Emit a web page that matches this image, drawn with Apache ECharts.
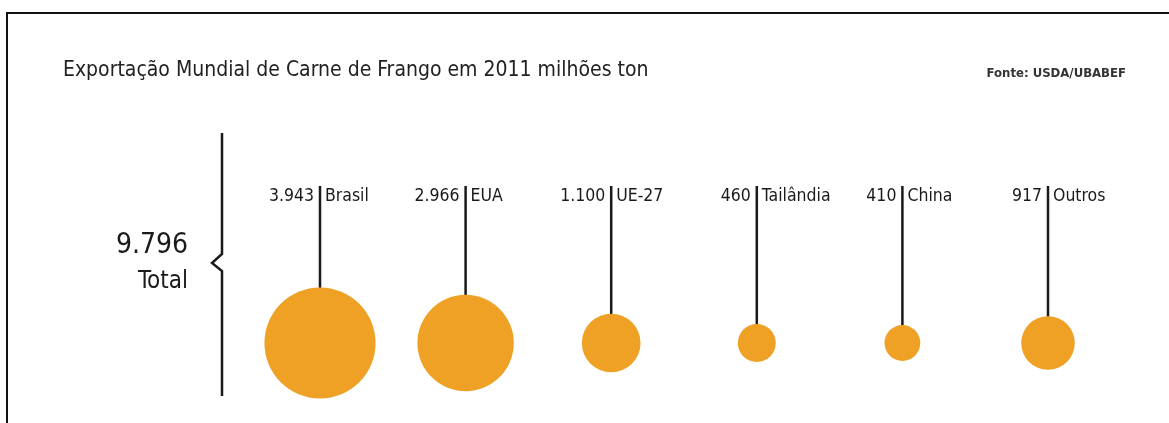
<!DOCTYPE html>
<html>
<head>
<meta charset="utf-8">
<script src="https://cdn.jsdelivr.net/npm/echarts@6/dist/echarts.min.js"></script>
<style>
  html, body { margin: 0; padding: 0; background: #fff; }
  #chart { width: 1169px; height: 423px; }
</style>
</head>
<body>
<div id="chart"></div>
<script>
// ---- data ----
const categories = ['Brasil', 'EUA', 'UE-27', 'Tailândia', 'China', 'Outros'];
const exportValues = [3943, 2966, 1100, 460, 410, 917];
const titleText = 'Exportação Mundial de Carne de Frango em 2011 milhões ton';
const sourceText = 'Fonte: USDA/UBABEF';
const totalLabel = 'Total';

// ---- helpers ----
const FONT = '"DejaVu Sans Condensed", "DejaVu Sans", sans-serif';
const fmt = v => String(v).replace(/\B(?=(\d{3})+(?!\d))/g, '.');
const sizeOf = v => 1.77 * Math.sqrt(v);
const total = exportValues.reduce((a, b) => a + b, 0);

const chart = echarts.init(document.getElementById('chart'));

const scatterData = exportValues.map((v, i) => [i, 0, v]);
const stemData = exportValues.map((v, i) => [i, v]);

chart.setOption({
  animation: false,
  backgroundColor: '#fff',
  title: {
    text: titleText,
    left: 63,
    top: 60,
    padding: 0,
    textStyle: { fontFamily: FONT, fontSize: 21, fontWeight: 'normal', color: '#222' }
  },
  grid: { left: 247.2, right: 48.2, top: 186, bottom: 80 },
  xAxis: {
    type: 'category',
    data: categories,
    boundaryGap: true,
    show: false
  },
  yAxis: { type: 'value', min: 0, max: 1, show: false },
  series: [
    {
      type: 'custom',
      data: stemData,
      z: 1,
      renderItem: function (params, api) {
        const idx = api.value(0);
        const v = api.value(1);
        const c = api.coord([idx, 0]);
        const t = api.coord([idx, 1]);
        const r = sizeOf(v) / 2;
        const txt = { fontFamily: FONT, fontSize: 17.5, fill: '#1a1a1a', textVerticalAlign: 'middle' };
        return {
          type: 'group',
          children: [
            { type: 'line', shape: { x1: c[0], y1: t[1], x2: c[0], y2: c[1] - r + 1 },
              style: { stroke: '#1a1a1a', lineWidth: 2.5 } },
            { type: 'text', style: Object.assign({}, txt, { text: fmt(v), x: c[0] - 6, y: t[1] + 10, textAlign: 'right' }) },
            { type: 'text', style: Object.assign({}, txt, { text: categories[idx], x: c[0] + 5, y: t[1] + 10, textAlign: 'left' }) }
          ]
        };
      }
    },
    {
      type: 'scatter',
      data: scatterData,
      z: 2,
      symbol: 'circle',
      symbolSize: function (val) { return sizeOf(val[2]); },
      itemStyle: { color: '#EFA125', opacity: 1 }
    }
  ],
  graphic: [
    // frame
    { type: 'polyline', shape: { points: [[7, 423], [7, 13], [1169, 13]] },
      style: { stroke: '#111', lineWidth: 2, fill: null } },
    // brace
    { type: 'polyline', shape: { points: [[222, 133], [222, 254], [212, 263], [222, 271], [222, 396]] },
      style: { stroke: '#1a1a1a', lineWidth: 2.5, fill: null } },
    // total
    { type: 'text', style: { text: fmt(total), x: 188, y: 246, textAlign: 'right', textVerticalAlign: 'middle',
      fontFamily: FONT, fontSize: 28, fill: '#1a1a1a' } },
    { type: 'text', style: { text: totalLabel, x: 188, y: 282, textAlign: 'right', textVerticalAlign: 'middle',
      fontFamily: FONT, fontSize: 24, fill: '#1a1a1a' } },
    // source
    { type: 'text', style: { text: sourceText, x: 1126, y: 74, textAlign: 'right', textVerticalAlign: 'middle',
      fontFamily: FONT, fontSize: 13, fontWeight: 'bold', fill: '#333' } }
  ]
});
</script>
</body>
</html>
